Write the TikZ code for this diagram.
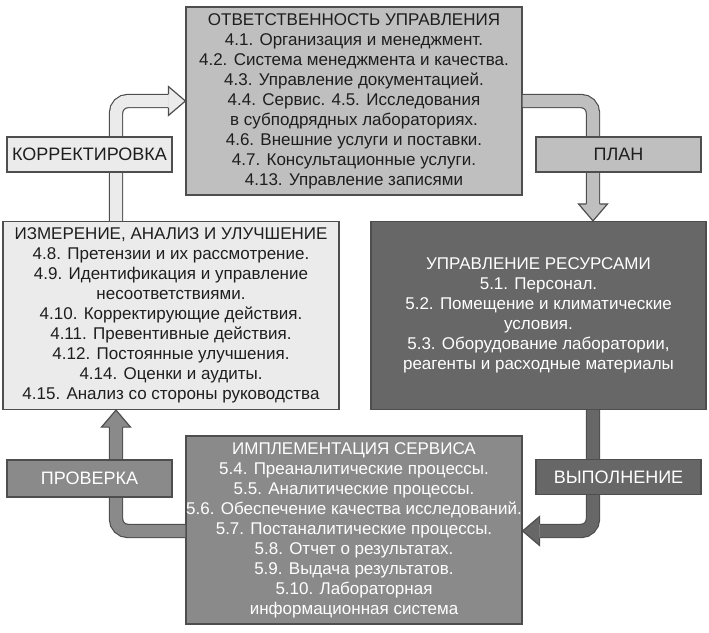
\documentclass[tikz,border=0pt]{standalone}
\usepackage{fontspec}
\setmainfont{Liberation Sans}
\usetikzlibrary{calc}

\definecolor{palefill}{HTML}{EBEBEB}
\definecolor{midfill}{HTML}{BFBFBF}
\definecolor{greyfill}{HTML}{8A8A8A}
\definecolor{darkfill}{HTML}{676767}
\definecolor{edge}{HTML}{4E4E4E}
\definecolor{ink}{HTML}{1E1E1E}

\tikzset{
  box/.style = {draw=edge, line width=1.2, rectangle, inner sep=0, align=center,
    minimum width=336, minimum height=188, font=\fontsize{17}{20}\selectfont},
  tag/.style = {draw=edge, line width=1.2, rectangle, inner sep=0,
    minimum width=165, minimum height=35, font=\fontsize{18}{20}\selectfont},
  shaft/.style = {draw=edge, line width=1.2, double distance=12, rounded corners=12},
  head/.style = {draw=edge, line width=1.2, line join=miter}
}

\begin{document}
\begin{tikzpicture}[x=1pt, y=-1pt]
\useasboundingbox (0,0) rectangle (709,632);

% the four blocks
\node[box, fill=midfill, text=ink] (resp) at (354,101) {ОТВЕТСТВЕННОСТЬ УПРАВЛЕНИЯ\\
4.1. Организация и менеджмент.\\
4.2. Система менеджмента и качества.\\
4.3. Управление документацией.\\
4.4. Сервис. 4.5. Исследования\\
в субподрядных лабораториях.\\
4.6. Внешние услуги и поставки.\\
4.7. Консультационные услуги.\\
4.13. Управление записями};
\node[box, fill=palefill, text=ink] (meas) at (171,315.5) {ИЗМЕРЕНИЕ, АНАЛИЗ И УЛУЧШЕНИЕ\\
4.8. Претензии и их рассмотрение.\\
4.9. Идентификация и управление\\
несоответствиями.\\
4.10. Корректирующие действия.\\
4.11. Превентивные действия.\\
4.12. Постоянные улучшения.\\
4.14. Оценки и аудиты.\\
4.15. Анализ со стороны руководства};
\node[box, fill=darkfill, text=white, minimum width=335] (res) at (538.5,315.5) {УПРАВЛЕНИЕ РЕСУРСАМИ\\
5.1. Персонал.\\
5.2. Помещение и климатические\\
условия.\\
5.3. Оборудование лаборатории,\\
реагенты и расходные материалы};
\node[box, fill=greyfill, text=white] (impl) at (354,530) {ИМПЛЕМЕНТАЦИЯ СЕРВИСА\\
5.4. Преаналитические процессы.\\
5.5. Аналитические процессы.\\
5.6. Обеспечение качества исследований.\\
5.7. Постаналитические процессы.\\
5.8. Отчет о результатах.\\
5.9. Выдача результатов.\\
5.10. Лабораторная\\
информационная система};

% bends of the arrows
\coordinate (cTL) at (116,101);
\coordinate (cTR) at (593,101);
\coordinate (cBR) at (593,531);
\coordinate (cBL) at (116,531);
\coordinate (t1) at (resp.west |- cTL);
\coordinate (t2) at (res.north -| cTR);
\coordinate (t3) at (impl.east |- cBR);
\coordinate (t4) at (meas.south -| cBL);

\draw[shaft, double=palefill] (meas.north -| cTL) -- (cTL) -- ($(t1)+(-17,0)$);
\filldraw[head, fill=palefill] ($(t1)+(-17,-6.6)$) -- ($(t1)+(-17,-14.5)$) -- (t1) -- ($(t1)+(-17,14.5)$) -- ($(t1)+(-17,6.6)$);

\draw[shaft, double=midfill] (resp.east |- cTR) -- (cTR) -- ($(t2)+(0,-17)$);
\filldraw[head, fill=midfill] ($(t2)+(-6.6,-17)$) -- ($(t2)+(-14.5,-17)$) -- (t2) -- ($(t2)+(14.5,-17)$) -- ($(t2)+(6.6,-17)$);

\draw[shaft, double=darkfill] (res.south -| cBR) -- (cBR) -- ($(t3)+(17,0)$);
\filldraw[head, fill=darkfill] ($(t3)+(17,-6.6)$) -- ($(t3)+(17,-14.5)$) -- (t3) -- ($(t3)+(17,14.5)$) -- ($(t3)+(17,6.6)$);

\draw[shaft, double=greyfill] (impl.west |- cBL) -- (cBL) -- ($(t4)+(0,17)$);
\filldraw[head, fill=greyfill] ($(t4)+(-6.6,17)$) -- ($(t4)+(-14.5,17)$) -- (t4) -- ($(t4)+(14.5,17)$) -- ($(t4)+(6.6,17)$);

% labels on the arrows
\node[tag, fill=palefill, text=ink] (corr) at (89.5,154.5) {КОРРЕКТИРОВКА};
\node[tag, fill=midfill, text=ink] (plan) at (618.5,154.5) {ПЛАН};
\node[tag, fill=greyfill, text=white, minimum height=37] (check) at (89.5,478.5) {ПРОВЕРКА};
\node[tag, fill=darkfill, text=white] (exec) at (618.5,477) {ВЫПОЛНЕНИЕ};
\end{tikzpicture}
\end{document}
